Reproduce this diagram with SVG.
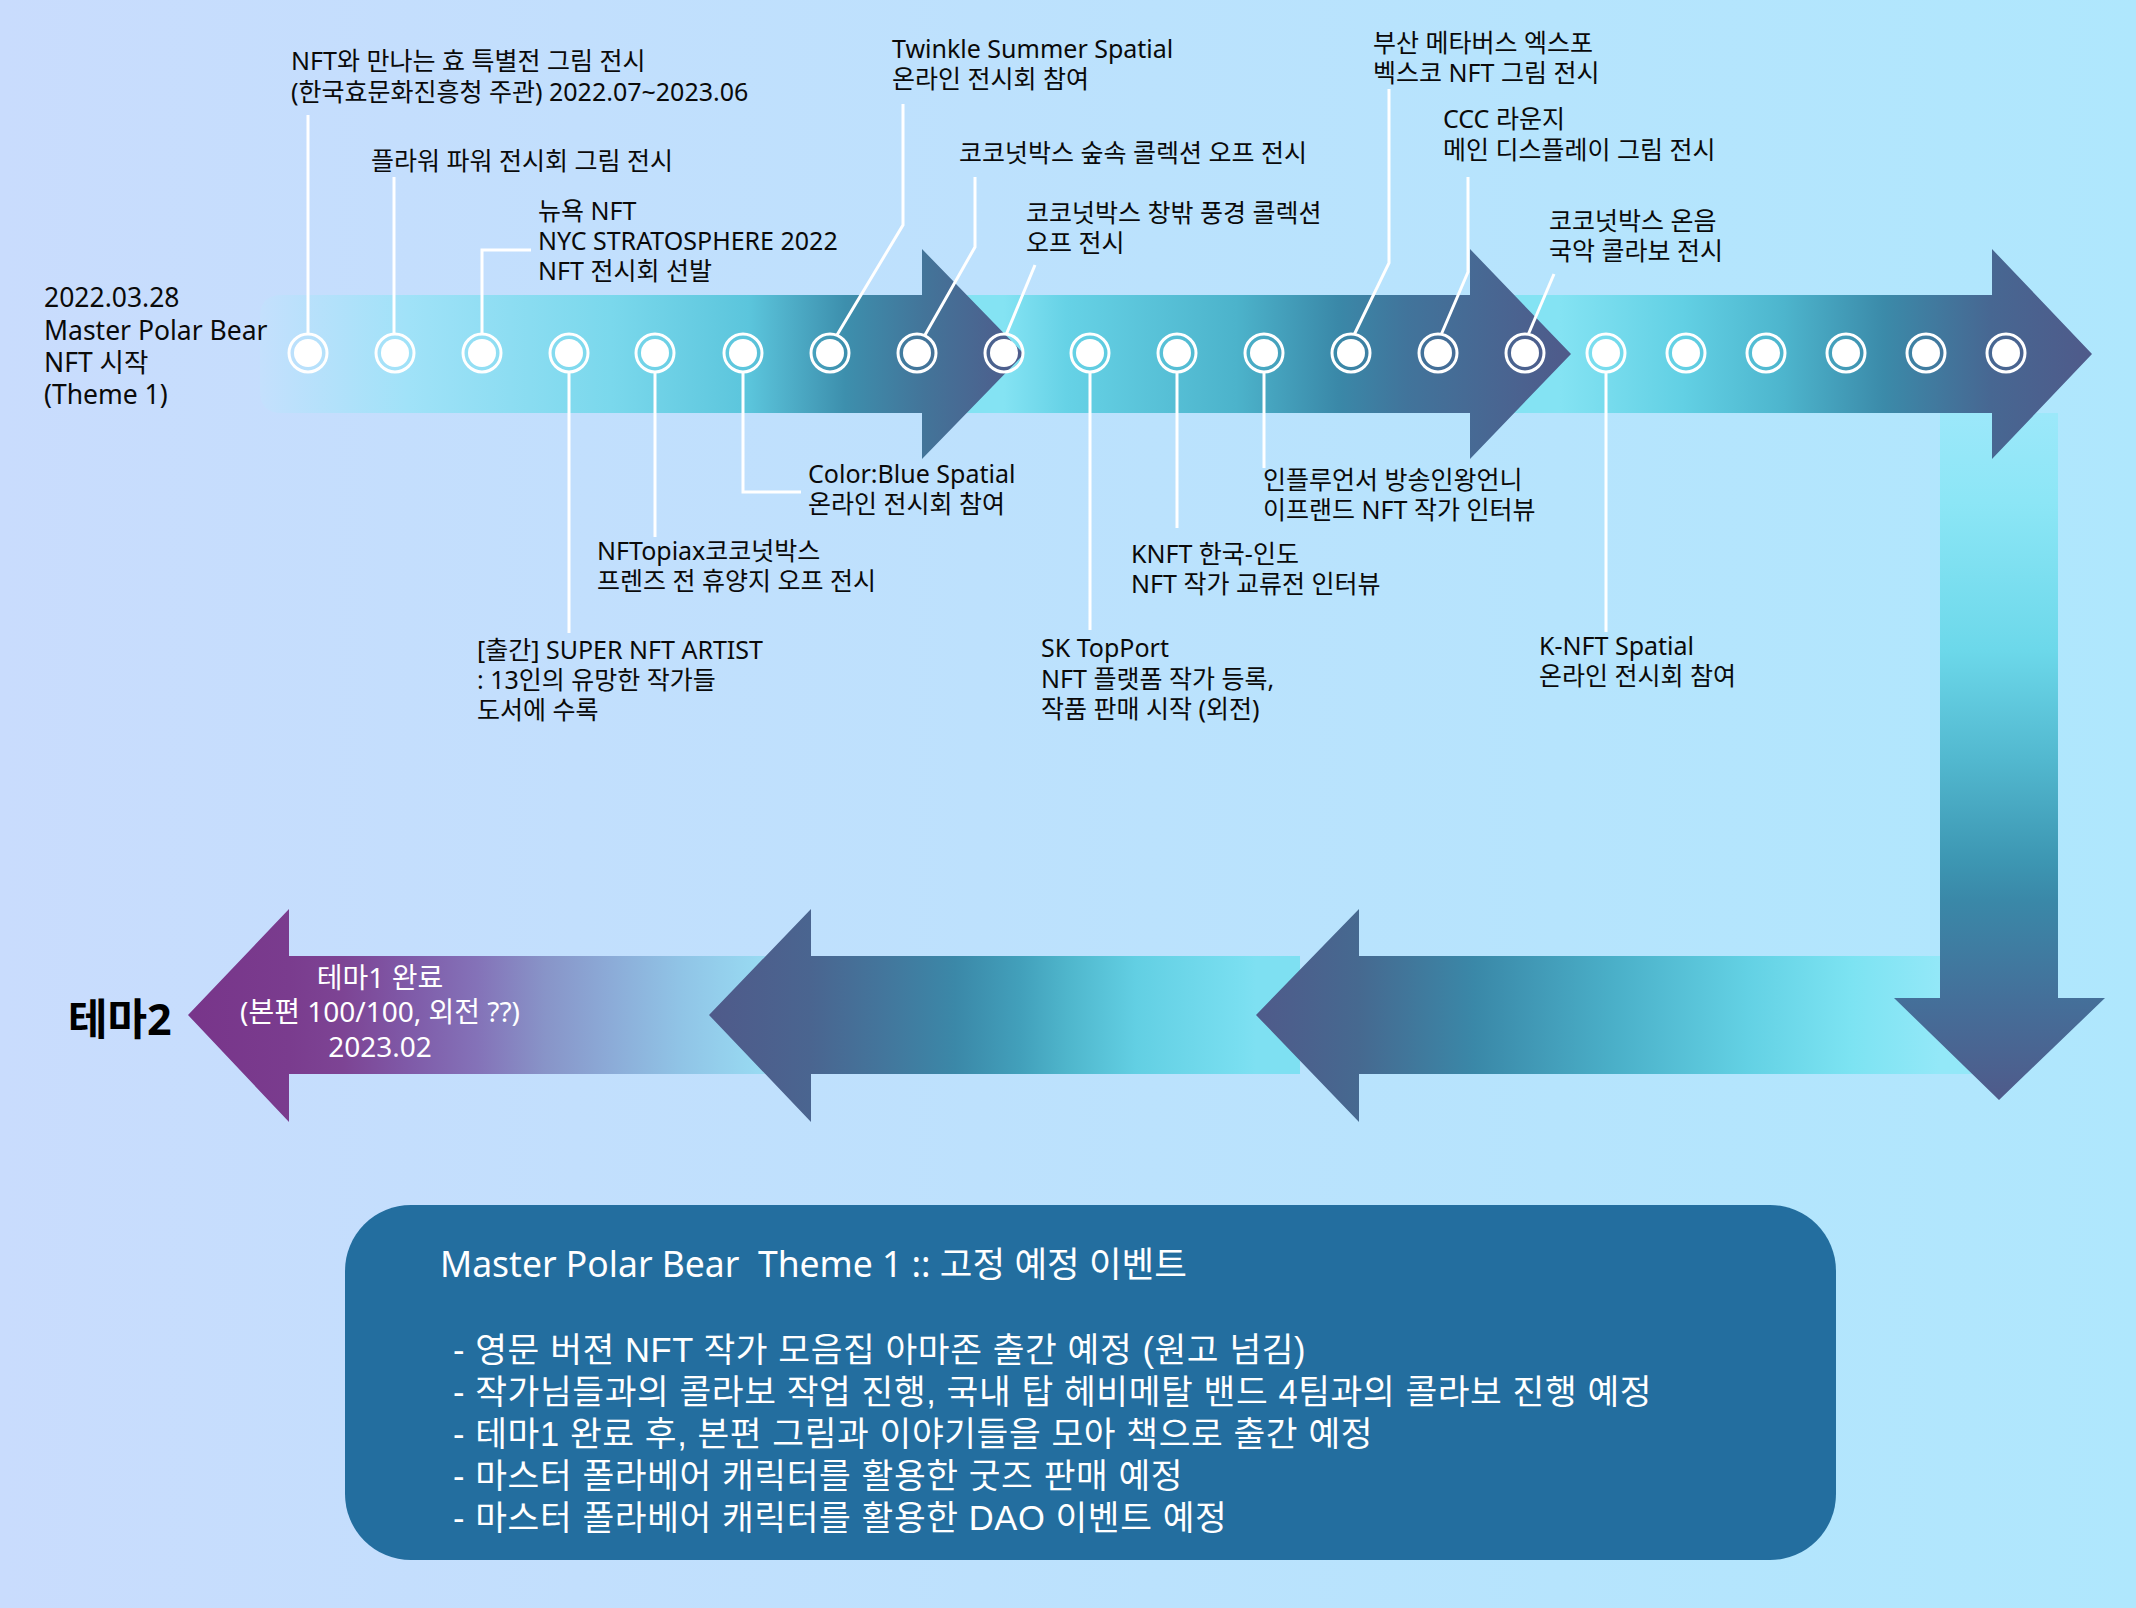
<svg xmlns="http://www.w3.org/2000/svg" width="2136" height="1608" viewBox="0 0 2136 1608">
<defs>
<style>
.lbl{font-family:"Noto Sans","Noto Sans CJK KR",sans-serif;font-size:25px;fill:#0a0a0a}
.st{font-family:"Noto Sans","Noto Sans CJK KR",sans-serif;font-size:26.5px;fill:#0a0a0a}
.wt{font-family:"Noto Sans","Noto Sans CJK KR",sans-serif;font-size:28px;fill:#ffffff;text-anchor:middle}
.box{font-family:"Noto Sans","Noto Sans CJK KR",sans-serif;fill:#ffffff}
.bl{font-family:"Liberation Sans","Noto Sans CJK KR",sans-serif;fill:#ffffff;font-size:34.5px;letter-spacing:0.6px}
.con{fill:none;stroke:#ffffff;stroke-width:3}
.ring{fill:none;stroke:#ffffff;stroke-width:3}
.dot{fill:#ffffff}
</style>
<linearGradient id="bg" x1="0" y1="0" x2="1" y2="0">
<stop offset="0" stop-color="#c9dcfd"/><stop offset="1" stop-color="#afe7fd"/>
</linearGradient>
<linearGradient id="gA1" gradientUnits="userSpaceOnUse" x1="260" y1="0" x2="1024" y2="0">
<stop offset="0" stop-color="#c4e0fd"/><stop offset="0.195" stop-color="#a0e2f8"/><stop offset="0.46" stop-color="#7ad8ec"/><stop offset="0.64" stop-color="#5bc5dc"/><stop offset="0.766" stop-color="#3d8fad"/><stop offset="0.87" stop-color="#437499"/><stop offset="1" stop-color="#4f5a8a"/>
</linearGradient>
<linearGradient id="gA2" gradientUnits="userSpaceOnUse" x1="1004" y1="0" x2="1571" y2="0">
<stop offset="0" stop-color="#84e3f3"/><stop offset="0.11" stop-color="#66d2e6"/><stop offset="0.41" stop-color="#4cb3cb"/><stop offset="0.59" stop-color="#3a88a8"/><stop offset="0.71" stop-color="#41749b"/><stop offset="1" stop-color="#4f5a8a"/>
</linearGradient>
<linearGradient id="gA3" gradientUnits="userSpaceOnUse" x1="1560" y1="0" x2="2092" y2="0">
<stop offset="0" stop-color="#84e3f3"/><stop offset="0.23" stop-color="#62d0e4"/><stop offset="0.42" stop-color="#4db5cd"/><stop offset="0.61" stop-color="#3b8aa9"/><stop offset="0.81" stop-color="#476792"/><stop offset="1" stop-color="#4f5a8a"/>
</linearGradient>
<linearGradient id="gV" gradientUnits="userSpaceOnUse" x1="0" y1="413" x2="0" y2="1100">
<stop offset="0" stop-color="#9ce8fa"/><stop offset="0.13" stop-color="#8ce6f6"/><stop offset="0.345" stop-color="#6cd8ea"/><stop offset="0.505" stop-color="#52b8cf"/><stop offset="0.65" stop-color="#3d97b3"/><stop offset="0.71" stop-color="#3a88a8"/><stop offset="0.85" stop-color="#44709a"/><stop offset="1" stop-color="#4f5a8a"/>
</linearGradient>
<linearGradient id="gB1" gradientUnits="userSpaceOnUse" x1="1256" y1="0" x2="1940" y2="0">
<stop offset="0" stop-color="#4f5a8a"/><stop offset="0.15" stop-color="#466990"/><stop offset="0.32" stop-color="#3a88a8"/><stop offset="0.52" stop-color="#4aafc8"/><stop offset="0.72" stop-color="#63d1e4"/><stop offset="0.87" stop-color="#7ce3f2"/><stop offset="1" stop-color="#93e8f8"/>
</linearGradient>
<linearGradient id="gB2" gradientUnits="userSpaceOnUse" x1="709" y1="0" x2="1256" y2="0">
<stop offset="0" stop-color="#4f5a8a"/><stop offset="0.186" stop-color="#4a6590"/><stop offset="0.32" stop-color="#43769c"/><stop offset="0.45" stop-color="#3b88a8"/><stop offset="0.57" stop-color="#42a0bb"/><stop offset="0.656" stop-color="#4fb6cc"/><stop offset="0.78" stop-color="#62cfe3"/><stop offset="0.966" stop-color="#78def0"/><stop offset="1" stop-color="#7ee0f2"/>
</linearGradient>
<linearGradient id="gB3" gradientUnits="userSpaceOnUse" x1="188" y1="0" x2="760" y2="0">
<stop offset="0" stop-color="#78358a"/><stop offset="0.177" stop-color="#7a3c8e"/><stop offset="0.27" stop-color="#7d4494"/><stop offset="0.386" stop-color="#7f5aa8"/><stop offset="0.505" stop-color="#8472b8"/><stop offset="0.624" stop-color="#8894c8"/><stop offset="0.743" stop-color="#8cacd8"/><stop offset="0.862" stop-color="#90c4e6"/><stop offset="1" stop-color="#98daf2"/>
</linearGradient>
</defs>

<rect x="0" y="0" width="2136" height="1608" fill="url(#bg)"/>

<g id="arrows">
<path id="arrow-b3" d="M780,956 H289 V909 L188,1015 L289,1122 V1074 H780 Z" fill="url(#gB3)"/>
<path id="arrow-b2" d="M1300,956 H811 V909 L709,1015 L811,1122 V1074 H1300 Z" fill="url(#gB2)"/>
<path id="arrow-b1" d="M2000,956 H1359 V909 L1256,1015 L1359,1122 V1074 H2000 Z" fill="url(#gB1)"/>
<path id="arrow-v" d="M1940,413 H2058 V998 H2105 L1999,1100 L1894,998 H1940 Z" fill="url(#gV)"/>
<path id="arrow-t3" d="M1470,295 H1992 V249 L2092,354 L1992,459 V413 H1470 Z" fill="url(#gA3)"/>
<path id="arrow-t2" d="M922,295 H1470 V249 L1571,354 L1470,459 V413 H922 Z" fill="url(#gA2)"/>
<path id="arrow-t1" d="M282,295 H922 V249 L1024,354 L922,459 V413 H282 Q260,413 260,391 V317 Q260,295 282,295 Z" fill="url(#gA1)"/>
</g>

<g id="connectors">
<polyline class="con" points="308,115 308,333"/>
<polyline class="con" points="394,177 394,333"/>
<polyline class="con" points="482,333 482,250 531,250"/>
<polyline class="con" points="903,104 903,225 837,335"/>
<polyline class="con" points="975,177 975,247 925,335"/>
<polyline class="con" points="1035,265 1006,335"/>
<polyline class="con" points="1389,89 1389,263 1354,335"/>
<polyline class="con" points="1468,177 1468,272 1441,335"/>
<polyline class="con" points="1554,274 1528,335"/>
<polyline class="con" points="569,373 569,633"/>
<polyline class="con" points="655,373 655,537"/>
<polyline class="con" points="743,373 743,492 801,492"/>
<polyline class="con" points="1090,373 1090,630"/>
<polyline class="con" points="1177,373 1177,528"/>
<polyline class="con" points="1264,373 1264,468"/>
<polyline class="con" points="1606,373 1606,632"/>
</g>

<g id="dots">
<g id="d1"><circle class="ring" cx="308" cy="353" r="19"/><circle class="dot" cx="308" cy="353" r="14"/></g>
<g id="d2"><circle class="ring" cx="395" cy="353" r="19"/><circle class="dot" cx="395" cy="353" r="14"/></g>
<g id="d3"><circle class="ring" cx="482" cy="353" r="19"/><circle class="dot" cx="482" cy="353" r="14"/></g>
<g id="d4"><circle class="ring" cx="569" cy="353" r="19"/><circle class="dot" cx="569" cy="353" r="14"/></g>
<g id="d5"><circle class="ring" cx="655" cy="353" r="19"/><circle class="dot" cx="655" cy="353" r="14"/></g>
<g id="d6"><circle class="ring" cx="743" cy="353" r="19"/><circle class="dot" cx="743" cy="353" r="14"/></g>
<g id="d7"><circle class="ring" cx="830" cy="353" r="19"/><circle class="dot" cx="830" cy="353" r="14"/></g>
<g id="d8"><circle class="ring" cx="917" cy="353" r="19"/><circle class="dot" cx="917" cy="353" r="14"/></g>
<g id="d9"><circle class="ring" cx="1004" cy="353" r="19"/><circle class="dot" cx="1004" cy="353" r="14"/></g>
<g id="d10"><circle class="ring" cx="1090" cy="353" r="19"/><circle class="dot" cx="1090" cy="353" r="14"/></g>
<g id="d11"><circle class="ring" cx="1177" cy="353" r="19"/><circle class="dot" cx="1177" cy="353" r="14"/></g>
<g id="d12"><circle class="ring" cx="1264" cy="353" r="19"/><circle class="dot" cx="1264" cy="353" r="14"/></g>
<g id="d13"><circle class="ring" cx="1351" cy="353" r="19"/><circle class="dot" cx="1351" cy="353" r="14"/></g>
<g id="d14"><circle class="ring" cx="1438" cy="353" r="19"/><circle class="dot" cx="1438" cy="353" r="14"/></g>
<g id="d15"><circle class="ring" cx="1525" cy="353" r="19"/><circle class="dot" cx="1525" cy="353" r="14"/></g>
<g id="d16"><circle class="ring" cx="1606" cy="353" r="19"/><circle class="dot" cx="1606" cy="353" r="14"/></g>
<g id="d17"><circle class="ring" cx="1686" cy="353" r="19"/><circle class="dot" cx="1686" cy="353" r="14"/></g>
<g id="d18"><circle class="ring" cx="1766" cy="353" r="19"/><circle class="dot" cx="1766" cy="353" r="14"/></g>
<g id="d19"><circle class="ring" cx="1846" cy="353" r="19"/><circle class="dot" cx="1846" cy="353" r="14"/></g>
<g id="d20"><circle class="ring" cx="1926" cy="353" r="19"/><circle class="dot" cx="1926" cy="353" r="14"/></g>
<g id="d21"><circle class="ring" cx="2006" cy="353" r="19"/><circle class="dot" cx="2006" cy="353" r="14"/></g>
</g>

<g id="labels">
<g id="start"><text class="st" x="44" y="307">2022.03.28</text><text class="st" x="44" y="340">Master Polar Bear</text><text class="st" x="44" y="372">NFT 시작</text><text class="st" x="44" y="404">(Theme 1)</text></g>
<g id="t1"><text class="lbl" x="291" y="70">NFT와 만나는 효 특별전 그림 전시</text><text class="lbl" x="291" y="101">(한국효문화진흥청 주관) 2022.07~2023.06</text></g>
<g id="t2"><text class="lbl" x="371" y="170">플라워 파워 전시회 그림 전시</text></g>
<g id="t3"><text class="lbl" x="538" y="220">뉴욕 NFT</text><text class="lbl" x="538" y="250">NYC STRATOSPHERE 2022</text><text class="lbl" x="538" y="280">NFT 전시회 선발</text></g>
<g id="t4"><text class="lbl" x="892" y="58">Twinkle Summer Spatial</text><text class="lbl" x="892" y="88">온라인 전시회 참여</text></g>
<g id="t5"><text class="lbl" x="959" y="162">코코넛박스 숲속 콜렉션 오프 전시</text></g>
<g id="t6"><text class="lbl" x="1026" y="222">코코넛박스 창밖 풍경 콜렉션</text><text class="lbl" x="1026" y="252">오프 전시</text></g>
<g id="t7"><text class="lbl" x="1373" y="52">부산 메타버스 엑스포</text><text class="lbl" x="1373" y="82">벡스코 NFT 그림 전시</text></g>
<g id="t8"><text class="lbl" x="1443" y="128">CCC 라운지</text><text class="lbl" x="1443" y="159">메인 디스플레이 그림 전시</text></g>
<g id="t9"><text class="lbl" x="1549" y="230">코코넛박스 온음</text><text class="lbl" x="1549" y="260">국악 콜라보 전시</text></g>
<g id="b10"><text class="lbl" x="477" y="659">[출간] SUPER NFT ARTIST</text><text class="lbl" x="477" y="689">: 13인의 유망한 작가들</text><text class="lbl" x="477" y="719">도서에 수록</text></g>
<g id="b11"><text class="lbl" x="597" y="560">NFTopiax코코넛박스</text><text class="lbl" x="597" y="590">프렌즈 전 휴양지 오프 전시</text></g>
<g id="b12"><text class="lbl" x="808" y="483">Color:Blue Spatial</text><text class="lbl" x="808" y="513">온라인 전시회 참여</text></g>
<g id="b13"><text class="lbl" x="1041" y="657">SK TopPort</text><text class="lbl" x="1041" y="688">NFT 플랫폼 작가 등록,</text><text class="lbl" x="1041" y="718">작품 판매 시작 (외전)</text></g>
<g id="b14"><text class="lbl" x="1131" y="563">KNFT 한국-인도</text><text class="lbl" x="1131" y="593">NFT 작가 교류전 인터뷰</text></g>
<g id="b15"><text class="lbl" x="1263" y="489">인플루언서 방송인왕언니</text><text class="lbl" x="1263" y="519">이프랜드 NFT 작가 인터뷰</text></g>
<g id="b16"><text class="lbl" x="1539" y="655">K-NFT Spatial</text><text class="lbl" x="1539" y="685">온라인 전시회 참여</text></g>
<g id="end"><text class="wt" x="380" y="988">테마1 완료</text><text class="wt" x="380" y="1022">(본편 100/100, 외전 ??)</text><text class="wt" x="380" y="1057">2023.02</text></g>
<g id="theme2"><text x="68" y="1035" style="font-family:'Noto Sans','Noto Sans CJK KR',sans-serif;font-size:43px;font-weight:bold;fill:#000">테마2</text></g>
</g>

<g id="infobox">
<rect x="345" y="1205" width="1491" height="355" rx="66" ry="66" fill="#236e9f"/>
<text class="box" x="440" y="1277" style="font-size:35.5px;white-space:pre">Master Polar Bear  Theme 1 :: 고정 예정 이벤트</text>
<text class="bl" x="453" y="1362">- 영문 버젼 NFT 작가 모음집 아마존 출간 예정 (원고 넘김)</text>
<text class="bl" x="453" y="1404">- 작가님들과의 콜라보 작업 진행, 국내 탑 헤비메탈 밴드 4팀과의 콜라보 진행 예정</text>
<text class="bl" x="453" y="1446">- 테마1 완료 후, 본편 그림과 이야기들을 모아 책으로 출간 예정</text>
<text class="bl" x="453" y="1488">- 마스터 폴라베어 캐릭터를 활용한 굿즈 판매 예정</text>
<text class="bl" x="453" y="1530">- 마스터 폴라베어 캐릭터를 활용한 DAO 이벤트 예정</text>
</g>
</svg>
